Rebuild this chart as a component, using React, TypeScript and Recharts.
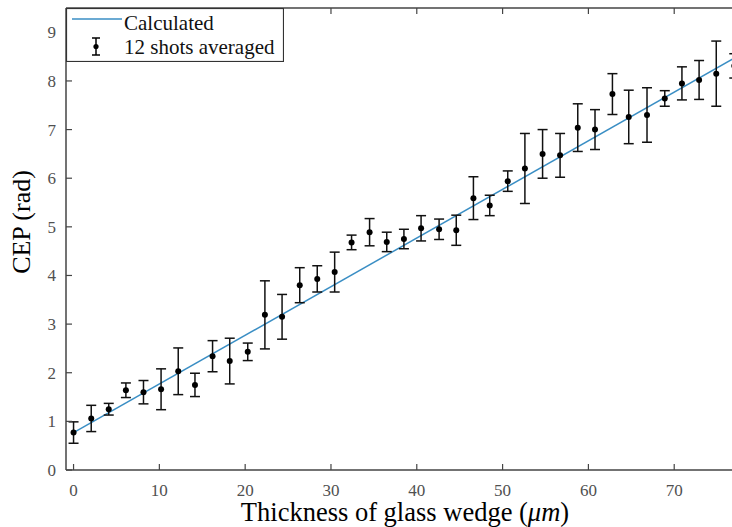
import React from 'react';
import { ComposedChart, Line, Scatter, ErrorBar, XAxis, YAxis, Legend } from 'recharts';

// ---- data ----
const thickness = [0, 2.06, 4.1, 6.1, 8.15, 10.2, 12.2, 14.15, 16.2, 18.2, 20.3, 22.3, 24.3, 26.36, 28.4, 30.43, 32.4, 34.5, 36.5, 38.5, 40.5, 42.6, 44.6, 46.6, 48.5, 50.6, 52.6, 54.66, 56.7, 58.76, 60.77, 62.8, 64.7, 66.83, 68.9, 70.9, 72.9, 74.9, 77.0];
const cepMeasured = [0.77, 1.06, 1.25, 1.64, 1.6, 1.66, 2.03, 1.75, 2.34, 2.24, 2.43, 3.19, 3.15, 3.8, 3.93, 4.07, 4.68, 4.89, 4.69, 4.75, 4.97, 4.95, 4.93, 5.59, 5.44, 5.94, 6.2, 6.5, 6.47, 7.04, 7.0, 7.73, 7.26, 7.3, 7.64, 7.95, 8.02, 8.15, 8.31];
const cepError = [0.22, 0.27, 0.12, 0.15, 0.24, 0.42, 0.48, 0.24, 0.32, 0.47, 0.18, 0.7, 0.46, 0.36, 0.27, 0.41, 0.15, 0.28, 0.2, 0.2, 0.26, 0.21, 0.31, 0.44, 0.21, 0.21, 0.72, 0.5, 0.45, 0.49, 0.41, 0.42, 0.55, 0.56, 0.16, 0.34, 0.4, 0.67, 0.25];
const calcThickness = [0, 77.9];
const calcCep = [0.77, 8.56];
const xTicks = [0, 10, 20, 30, 40, 50, 60, 70];
const yTicks = [0, 1, 2, 3, 4, 5, 6, 7, 8, 9];
const seriesNames = ['Calculated', '12 shots averaged'];

const measuredData = thickness.map((x, i) => ({ x, y: cepMeasured[i], err: cepError[i] }));
const calcData = calcThickness.map((x, i) => ({ x, y: calcCep[i] }));

const SERIF = '"Liberation Serif", "Times New Roman", serif';
const AXIS = '#444';
const TICK_TEXT = '#505050';
const BLUE = '#3a8ec4';

const XTick = (props: any) => {
  const { x, y, payload } = props;
  return (
    <g>
      <line x1={x} x2={x} y1={y - 14} y2={y - 20} stroke={AXIS} strokeWidth={1.2} />
      <text x={x} y={y} dy="0.71em" textAnchor="middle" fontFamily={SERIF} fontSize={17} fill={TICK_TEXT}>
        {payload.value}
      </text>
    </g>
  );
};

const TopTick = (props: any) => {
  const { x, y } = props;
  return <line x1={x} x2={x} y1={y} y2={y + 6} stroke={AXIS} strokeWidth={1.2} />;
};

const YTick = (props: any) => {
  const { x, y, payload } = props;
  return (
    <g>
      <line x1={x + 10} x2={x + 16} y1={y} y2={y} stroke={AXIS} strokeWidth={1.2} />
      <text x={x} y={y} dy="0.35em" textAnchor="end" fontFamily={SERIF} fontSize={17} fill={TICK_TEXT}>
        {payload.value}
      </text>
    </g>
  );
};

const LegendBox = () => (
  <svg width={218} height={54} style={{ display: 'block' }}>
    <rect x={0.5} y={0.5} width={217} height={53} fill="#fff" stroke="#333" strokeWidth={1.2} />
    <line x1={6} x2={56} y1={11} y2={11} stroke={BLUE} strokeWidth={1.5} />
    <text x={58} y={22} fontFamily={SERIF} fontSize={21} fill="#111">{seriesNames[0]}</text>
    <line x1={30} x2={30} y1={30} y2={47} stroke="#000" strokeWidth={1.5} />
    <line x1={26} x2={34} y1={30} y2={30} stroke="#000" strokeWidth={1.5} />
    <line x1={26} x2={34} y1={47} y2={47} stroke="#000" strokeWidth={1.5} />
    <circle cx={30} cy={38.5} r={2.6} fill="#000" />
    <text x={58} y={46} fontFamily={SERIF} fontSize={21} fill="#111">{seriesNames[1]}</text>
  </svg>
);

const Dot = (props: any) => <circle cx={props.cx} cy={props.cy} r={3} fill="#000" />;

export default function App() {
  return (
    <div style={{ position: 'absolute', left: 0, top: 0, width: 732, height: 527, overflow: 'hidden', background: '#fff' }}>
      <ComposedChart width={760} height={527} margin={{ top: 0, right: 18, bottom: 17, left: 26 }}>
        <XAxis
          xAxisId="bottom"
          type="number"
          dataKey="x"
          orientation="bottom"
          domain={[-0.88, 77.9]}
          ticks={xTicks}
          allowDataOverflow
          height={40}
          tickSize={0}
          tickMargin={14}
          tick={<XTick />}
          axisLine={{ stroke: AXIS, strokeWidth: 1.5 }}
          tickLine={false}
          label={{
            content: () => (
              <text x={405} y={521} textAnchor="middle" fontFamily={SERIF} fontSize={26.5} fill="#000">
                Thickness of glass wedge (<tspan fontStyle="italic">μm</tspan>)
              </text>
            ),
          }}
        />
        <XAxis
          xAxisId="top"
          type="number"
          dataKey="x"
          orientation="top"
          domain={[-0.88, 77.9]}
          ticks={xTicks}
          allowDataOverflow
          height={8}
          tickSize={0}
          tickMargin={0}
          tick={<TopTick />}
          axisLine={{ stroke: AXIS, strokeWidth: 1.5 }}
          tickLine={false}
        />
        <YAxis
          yAxisId="left"
          type="number"
          domain={[0, 9.5]}
          ticks={yTicks}
          allowDataOverflow
          width={40}
          tickSize={0}
          tickMargin={10}
          tick={<YTick />}
          axisLine={{ stroke: AXIS, strokeWidth: 1.5 }}
          tickLine={false}
          label={{
            content: () => (
              <text transform="translate(30,222) rotate(-90)" textAnchor="middle" fontFamily={SERIF} fontSize={26} fill="#000">
                CEP (rad)
              </text>
            ),
          }}
        />
        <Line
          xAxisId="bottom"
          yAxisId="left"
          data={calcData}
          dataKey="y"
          stroke={BLUE}
          strokeWidth={1.5}
          dot={false}
          activeDot={false}
          isAnimationActive={false}
          name={seriesNames[0]}
        />
        <Scatter
          xAxisId="bottom"
          yAxisId="left"
          data={measuredData}
          dataKey="y"
          fill="#000"
          shape={<Dot />}
          isAnimationActive={false}
          name={seriesNames[1]}
        >
          <ErrorBar dataKey="err" direction="y" width={5} stroke="#111" strokeWidth={1.5} isAnimationActive={false} />
        </Scatter>
        <Legend
          layout="horizontal"
          verticalAlign="middle"
          align="center"
          content={() => <LegendBox />}
          wrapperStyle={{ position: 'absolute', left: 66, top: 8, width: 218, height: 54 }}
        />
      </ComposedChart>
    </div>
  );
}
